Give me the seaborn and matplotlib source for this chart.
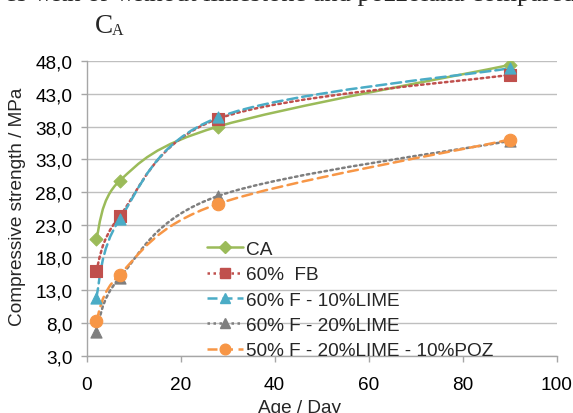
import matplotlib
matplotlib.use('Agg')
import matplotlib.pyplot as plt
from matplotlib.path import Path
from matplotlib.patches import PathPatch
from matplotlib.lines import Line2D
import numpy as np
import seaborn as sns

# data
days = [2, 7, 28, 90]
ca = [20.8, 29.7, 38.0, 47.4]
fb = [16.0, 24.3, 39.2, 45.9]
f10lime = [11.8, 23.8, 39.4, 46.9]
f20lime = [6.6, 14.9, 27.4, 35.8]
f20lime_poz = [8.3, 15.4, 26.2, 36.0]

labels = ['CA', '60%  FB', '60% F - 10%LIME', '60% F - 20%LIME', '50% F - 20%LIME - 10%POZ']
y_ticks = [3, 8, 13, 18, 23, 28, 33, 38, 43, 48]
x_ticks = [0, 20, 40, 60, 80, 100]

series = [ca, fb, f10lime, f20lime, f20lime_poz]
colors = ['#9BBB59', '#C0504D', '#4BACC6', '#7F7F7F', '#F79646']
markers = ['D', 's', '^', '^', 'o']
msizes = [6.6, 8, 8, 8, 9]
styles = ['-', (0, (1, 1.4)), (0, (4, 2)), (0, (1, 1.4)), (0, (4, 2.2))]

FS = 13.7

sns.set_theme(style='white')
plt.rcParams['font.family'] = ['Liberation Sans', 'DejaVu Sans']


def smooth_path(xs, ys):
    # excel style smoothed line: bezier segments through the points
    pts = np.column_stack([xs, ys]).astype(float)
    n = len(pts)
    verts = [pts[0]]
    codes = [Path.MOVETO]
    for i in range(n - 1):
        p_prev = pts[max(i - 1, 0)]
        p0 = pts[i]
        p1 = pts[i + 1]
        p_next = pts[min(i + 2, n - 1)]
        c1 = p0 + (p1 - p_prev) / 6.0
        c2 = p1 - (p_next - p0) / 6.0
        verts += [c1, c2, p1]
        codes += [Path.CURVE4] * 3
    return Path(verts, codes)


fig = plt.figure(figsize=(5.73, 4.14), dpi=100)
ax = fig.add_axes([0.1513, 0.1384, 0.8202, 0.7118])

handles = []
for vals, col, mk, ms, ls, lab in zip(series, colors, markers, msizes, styles, labels):
    patch = PathPatch(smooth_path(days, vals), facecolor='none', edgecolor=col,
                      lw=1.8, linestyle=ls, capstyle='round', zorder=2)
    ax.add_patch(patch)
    sns.scatterplot(x=days, y=vals, marker=mk, s=ms ** 2, color=col,
                    edgecolor=col, linewidth=0.8, zorder=3, ax=ax)
    handles.append(Line2D([], [], color=col, lw=1.8, linestyle=ls, marker=mk,
                          markersize=ms * 0.85, markeredgecolor=col, label=lab))

ax.set_xlim(0, 100)
ax.set_ylim(3, 48)
ax.set_xticks(x_ticks)
ax.set_yticks(y_ticks)
ax.set_yticklabels([f'{v:.1f}'.replace('.', ',') for v in y_ticks])
ax.grid(axis='y', color='#BFBFBF', lw=1)
ax.grid(axis='x', visible=False)
for side in ['top', 'right']:
    ax.spines[side].set_visible(False)
for side in ['left', 'bottom']:
    ax.spines[side].set_color('#A6A6A6')
    ax.spines[side].set_linewidth(1)
ax.tick_params(axis='both', which='major', direction='out', length=4.3, width=1,
               color='#A6A6A6', labelsize=FS, labelcolor='black',
               left=True, bottom=True)
ax.tick_params(axis='y', pad=6)
ax.tick_params(axis='x', pad=10)

ax.legend(handles=handles, loc='upper left', bbox_to_anchor=(0.256, 0.39),
          frameon=False, fontsize=FS, handlelength=1.9, handletextpad=0.15,
          labelspacing=0.42, borderpad=0, borderaxespad=0)

fig.text(18 / 573, 1 - 207 / 414, 'Compressive strength / MPa', rotation=90,
         ha='center', va='center', fontsize=FS)
fig.text(300 / 573, 0.6 / 414, 'Age / Day', ha='center', va='baseline', fontsize=FS)

# bits of the surrounding document
fig.text(576 / 573, 1 - 1.5 / 414, 'es with or without limestone and pozzolana compared',
         ha='right', va='baseline', fontsize=19, family='Liberation Serif')
fig.text(95 / 573, 1 - 33 / 414, 'C', ha='left', va='baseline', fontsize=19.5,
         family='Liberation Serif')
fig.text(112 / 573, 1 - 35 / 414, 'A', ha='left', va='baseline', fontsize=11.5,
         family='Liberation Serif')

fig.savefig('out.png', dpi=100)
